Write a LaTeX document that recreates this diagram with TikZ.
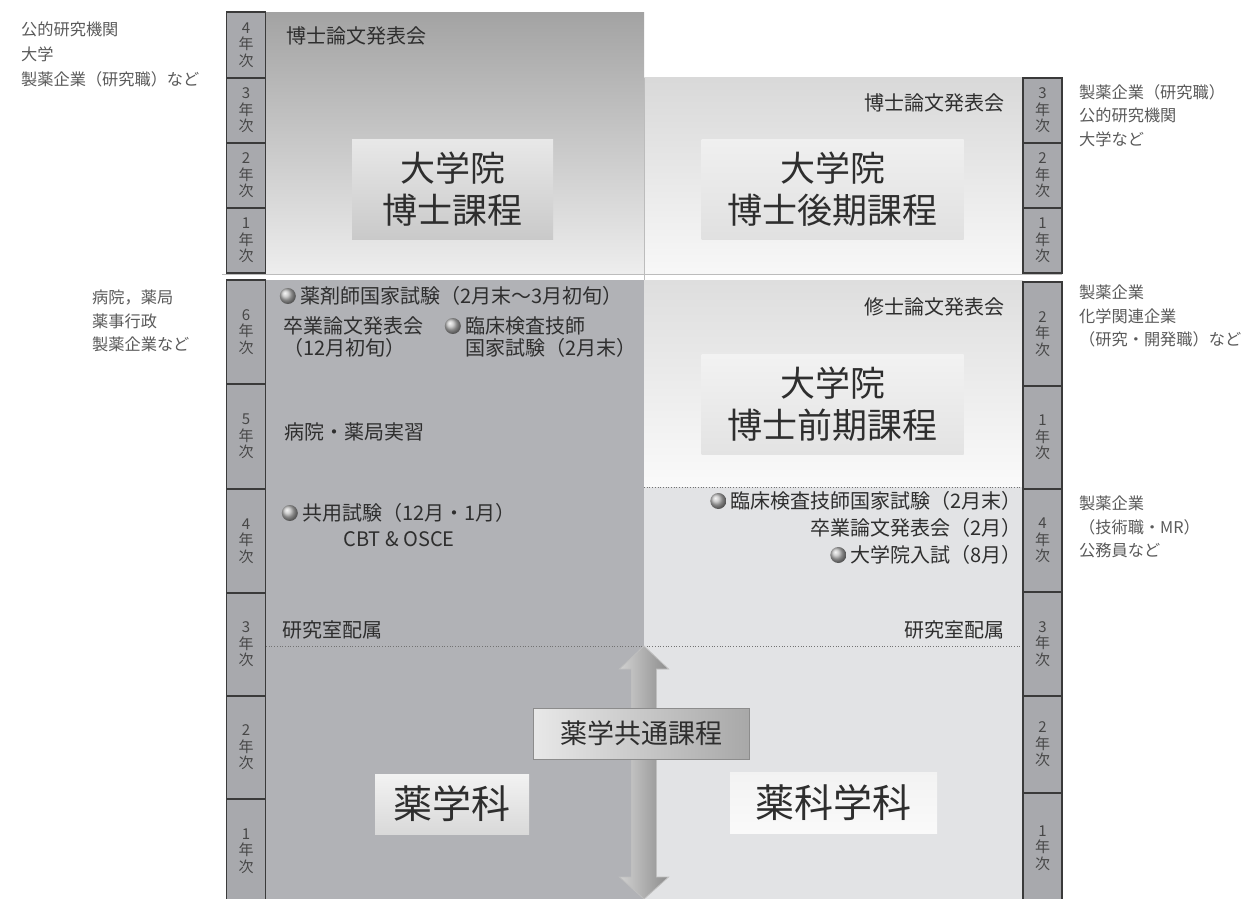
\documentclass[tikz,border=0pt]{standalone}
\usepackage{fontspec}
\setmainfont{Noto Sans CJK JP}
\usetikzlibrary{positioning,calc}

\definecolor{tilefill}{HTML}{A8A9AD}
\definecolor{tileline}{HTML}{3A3A3A}
\definecolor{outertext}{HTML}{5A5A5A}
\definecolor{innertext}{HTML}{2E2E2E}
\definecolor{pharmarea}{HTML}{B1B2B6}
\definecolor{sciarea}{HTML}{E2E3E5}
\definecolor{edgegray}{HTML}{BCBCBC}

\begin{document}
\begin{tikzpicture}[x=1pt,y=-1pt,
    yeartile/.style={draw=tileline,fill=tilefill,line width=1.1pt,minimum width=39,inner sep=0,align=center,text=black!72,font=\fontsize{15}{16.5}\selectfont},
    outerlabel/.style={anchor=north west,inner sep=0,align=left,text=outertext,font=\fontsize{16.2}{23.5}\selectfont},
    eventlabel/.style={inner sep=0,text=innertext,font=\fontsize{20}{22}\selectfont},
    coursebox/.style={inner sep=0,align=center,text=innertext,font=\fontsize{35}{42}\selectfont},
    bullet/.style={circle,inner sep=0,minimum size=16,ball color=gray!50}]
    \useasboundingbox[fill=white] (0,0) rectangle (1243,899);

    \shade[top color=black!36!white,bottom color=black!7!white] (266,13) rectangle (644,273);
    \shade[top color=black!15!white,bottom color=black!3!white] (644,78) rectangle (1023,273);
    \fill[pharmarea] (266,280) rectangle (644,899);
    \shade[top color=black!13!white,bottom color=black!2!white] (644,280) rectangle (1023,487);
    \fill[sciarea] (644,487) rectangle (1023,899);

    \draw[edgegray,line width=1.4pt] (222,274.5) -- (1062,274.5);
    \draw[edgegray,line width=0.8pt] (644,78) -- (644,280);
    \draw[black!55,dotted,line width=0.7pt] (266,646) -- (1023,646);
    \draw[black!55,dotted,line width=0.7pt] (644,487) -- (1023,487);

    \node[yeartile,minimum height=66] (lt4) at (246,45) {4\\年\\次};
    \node[yeartile,minimum height=65] (lt3) at (246,110.5) {3\\年\\次};
    \node[yeartile,minimum height=65] (lt2) at (246,175.5) {2\\年\\次};
    \node[yeartile,minimum height=65] (lt1) at (246,240.5) {1\\年\\次};

    \node[yeartile,minimum height=104] (ll6) at (246,332) {6\\年\\次};
    \node[yeartile,minimum height=105] (ll5) at (246,436.5) {5\\年\\次};
    \node[yeartile,minimum height=104] (ll4) at (246,541) {4\\年\\次};
    \node[yeartile,minimum height=103] (ll3) at (246,644.5) {3\\年\\次};
    \node[yeartile,minimum height=103] (ll2) at (246,747.5) {2\\年\\次};
    \node[yeartile,minimum height=104] (ll1) at (246,851) {1\\年\\次};

    \node[yeartile,minimum height=65] (rt3) at (1042.5,110.5) {3\\年\\次};
    \node[yeartile,minimum height=65] (rt2) at (1042.5,175.5) {2\\年\\次};
    \node[yeartile,minimum height=65] (rt1) at (1042.5,240.5) {1\\年\\次};

    \node[yeartile,minimum height=104] (rl2) at (1042.5,334) {2\\年\\次};
    \node[yeartile,minimum height=103] (rl1) at (1042.5,437.5) {1\\年\\次};
    \node[yeartile,minimum height=103] (rl4) at (1042.5,540.5) {4\\年\\次};
    \node[yeartile,minimum height=104] (rl3) at (1042.5,644) {3\\年\\次};
    \node[yeartile,minimum height=97] (rlb2) at (1042.5,744.5) {2\\年\\次};
    \node[yeartile,minimum height=110] (rlb1) at (1042.5,848) {1\\年\\次};

    \node[outerlabel,font=\fontsize{16.2}{25}\selectfont] (phdjobsL) at (21,22) {公的研究機関\\大学\\製薬企業（研究職）など};
    \node[outerlabel] (phdjobsR) at (1079,84) {製薬企業（研究職）\\公的研究機関\\大学など};
    \node[outerlabel] (pharmjobs) at (92,290) {病院，薬局\\薬事行政\\製薬企業など};
    \node[outerlabel] (masterjobs) at (1079,285) {製薬企業\\化学関連企業\\（研究・開発職）など};
    \node[outerlabel] (scijobs) at (1079,496) {製薬企業\\（技術職・MR）\\公務員など};

    \node[coursebox,minimum width=201,minimum height=100,top color=black!9!white,bottom color=black!21!white] (phdL) at (452.5,189) {大学院\\博士課程};
    \node[coursebox,minimum width=262,minimum height=100,top color=black!6!white,bottom color=black!12!white] (phdR) at (832.5,189) {大学院\\博士後期課程};
    \node[coursebox,minimum width=262,minimum height=100,top color=black!5!white,bottom color=black!11!white] (masterR) at (832.5,404) {大学院\\博士前期課程};

    \node[eventlabel,anchor=west] (phdtalkL) at (286,36) {博士論文発表会};
    \node[eventlabel,anchor=east] (phdtalkR) at (1005,103) {博士論文発表会};
    \node[eventlabel,anchor=east] (mastertalk) at (1005,307) {修士論文発表会};

    \node[eventlabel,anchor=west] (natexam) at (300,296) {薬剤師国家試験（2月末〜3月初旬）};
    \node[bullet,left=4pt of natexam] (bnat) {};
    \node[eventlabel,anchor=north west,align=left] (gradtalk6) at (283,316) {卒業論文発表会\\（12月初旬）};
    \node[eventlabel,anchor=north west,align=left] (clinexam6) at (465,316) {臨床検査技師\\国家試験（2月末）};
    \node[bullet,anchor=east] (bclin6) at ($(clinexam6.north west)+(-4,10)$) {};
    \node[eventlabel,anchor=west] (practice) at (284,432) {病院・薬局実習};

    \node[eventlabel,anchor=west] (cbt) at (302,513) {共用試験（12月・1月）};
    \node[bullet,left=4pt of cbt] (bcbt) {};
    \node[eventlabel] (osce) at (399,539) {CBT \& OSCE};

    \node[eventlabel,anchor=east] (clinexam4) at (1022,501) {臨床検査技師国家試験（2月末）};
    \node[bullet,left=4pt of clinexam4] (bclin4) {};
    \node[eventlabel,anchor=east] (gradtalk4) at (1022,528) {卒業論文発表会（2月）};
    \node[eventlabel,anchor=east] (gradexam) at (1022,555) {大学院入試（8月）};
    \node[bullet,left=4pt of gradexam] (bgrad) {};

    \node[eventlabel,anchor=west] (labL) at (282,630) {研究室配属};
    \node[eventlabel,anchor=east] (labR) at (1005,630) {研究室配属};

    \coordinate (arrtop) at (644,646);
    \coordinate (arrbot) at (644,899);
    \shade[left color=black!18!white,middle color=black!38!white,right color=black!45!white,draw=black!25!white,line width=0.8pt]
        (arrtop) -- ++(24.5,23) -- ++(-12,0) -- ($(arrbot)+(12.5,-22)$) -- ++(12,0) -- (arrbot)
        -- ++(-24.5,-22) -- ++(12,0) -- ($(arrtop)+(-12.5,23)$) -- ++(-12,0) -- cycle;

    \node[inner sep=0,minimum width=216,minimum height=51,draw=black!45!white,line width=0.9pt,left color=black!9!white,right color=black!34!white,text=innertext,font=\fontsize{27}{30}\selectfont] (common) at (641,733.5) {薬学共通課程};
    \node[coursebox,minimum width=154,minimum height=60,top color=black!5!white,bottom color=black!15!white,font=\fontsize{39}{42}\selectfont] (pharm) at (452,804) {薬学科};
    \node[coursebox,minimum width=207,minimum height=61,top color=black!5!white,bottom color=black!2!white,font=\fontsize{39}{42}\selectfont] (sci) at (833.5,802.5) {薬科学科};
\end{tikzpicture}
\end{document}
